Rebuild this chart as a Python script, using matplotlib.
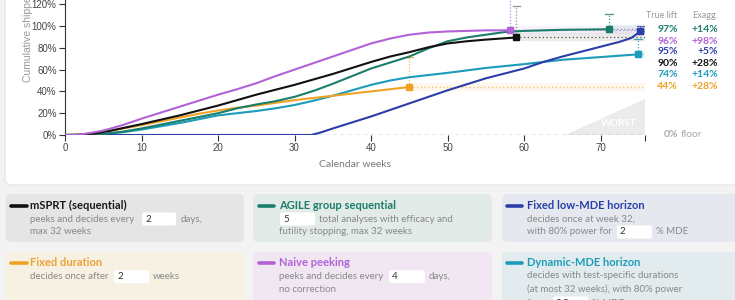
import matplotlib
matplotlib.use('Agg')
import matplotlib.pyplot as plt
from matplotlib.patches import FancyBboxPatch, Polygon

W, H = 735, 300

# ---- series (weeks, cumulative shipped lift %) ----
msprt_weeks = [0, 2, 4, 6, 8, 10, 12.5, 15, 17.5, 20, 22.5, 25, 27.5, 30, 32.5, 35,
               37.5, 40, 42.5, 45, 47.5, 50, 52.5, 55, 59]
msprt_lift = [0, 0.3, 1.5, 4, 7, 10, 14, 18, 22.5, 27, 32, 37, 41.5, 46, 51, 56,
              61.5, 67, 72, 76, 80.5, 84, 86, 87.5, 89.5]

agile_weeks = [0, 3, 5, 7.5, 10, 12.5, 15, 17.5, 20, 22.5, 25, 27.5, 30, 32.5, 35,
               37.5, 40, 42.5, 45, 47.5, 50, 52.5, 55, 57.5, 60, 65, 71.1]
agile_lift = [0, 0, 1, 3, 6, 9.5, 13, 16.5, 20, 24.5, 28, 31, 35, 40.5, 47,
              54, 61, 66.5, 72, 79.5, 86, 89.5, 92, 94.5, 95.5, 96.5, 97]

lowmde_weeks = [0, 32.2, 33.5, 35, 37.5, 40, 42.5, 45, 47.5, 50, 52.5, 55, 57.5,
                60, 62.5, 65, 67.5, 70, 72.5, 74, 75.2]
lowmde_lift = [0, 0, 2.5, 6, 11.5, 17, 23, 29, 35, 41, 46.5, 52, 56.5,
               61, 67, 72, 76.5, 81, 85.5, 89, 95]

fixed_weeks = [0, 2, 4, 6, 8, 10, 12.5, 15, 17.5, 20, 22.5, 25, 27.5, 30, 32.5, 35,
               37.5, 40, 42.5, 45]
fixed_lift = [0, 0.5, 2, 4, 6.5, 9, 12.5, 16, 19.5, 22.5, 25, 27, 29.5, 32, 34, 36,
              38, 40, 42, 44]

naive_weeks = [0, 1.5, 3, 5, 7.5, 10, 12.5, 15, 17.5, 20, 22.5, 25, 27.5, 30, 32.5,
               35, 37.5, 40, 42.5, 45, 47.5, 50, 55, 58.2]
naive_lift = [0, 0, 1.5, 4, 9, 15, 20.5, 26, 31.5, 37, 42, 47.5, 54, 60, 66,
              72, 78, 84, 88.5, 92, 94, 95, 96, 96]

dynamic_weeks = [0, 3, 5, 7.5, 10, 12.5, 15, 17.5, 20, 22.5, 25, 27.5, 30, 32.5, 35,
                 37.5, 40, 42.5, 45, 47.5, 50, 55, 60, 65, 70, 74.9]
dynamic_lift = [0, 0, 1, 2.5, 5, 8, 11, 14.5, 18, 20, 22, 24.5, 27.5, 31.5, 36,
                41, 46, 50, 53, 55, 57, 61.5, 65, 69, 71.5, 74]

# summary table on the right: true lift and exaggeration (percentage points)
table_names = ['AGILE', 'Naive', 'LowMDE', 'mSPRT', 'Dynamic', 'Fixed']
true_lift = [97, 96, 95, 90, 74, 44]
exaggeration = [14, 98, 5, 28, 14, 28]

colors = {
    'mSPRT': '#111111',
    'AGILE': '#1b7d6c',
    'LowMDE': '#2a3ea8',
    'Fixed': '#f0a225',
    'Naive': '#b262d6',
    'Dynamic': '#1b9cb8',
}
series = {
    'Dynamic': (dynamic_weeks, dynamic_lift),
    'Fixed': (fixed_weeks, fixed_lift),
    'LowMDE': (lowmde_weeks, lowmde_lift),
    'AGILE': (agile_weeks, agile_lift),
    'mSPRT': (msprt_weeks, msprt_lift),
    'Naive': (naive_weeks, naive_lift),
}
XMAX = 75.8

fig = plt.figure(figsize=(W / 100, H / 100), dpi=100)
fig.patch.set_facecolor('#f3f3f3')
inch = fig.dpi_scale_trans


def card(x0, y0, x1, y1, color, edge='none', r=5):
    p = FancyBboxPatch((x0 / 100, (H - y1) / 100), (x1 - x0) / 100, (y1 - y0) / 100,
                       boxstyle='round,pad=0,rounding_size=%f' % (r / 100),
                       transform=inch, facecolor=color, edgecolor=edge, lw=0.8, zorder=0)
    fig.add_artist(p)


def txt(x, y, s, **kw):
    kw.setdefault('fontfamily', 'Lato')
    kw.setdefault('va', 'center')
    fig.text(x / W, 1 - y / H, s, **kw)


def dash(x0, x1, y, color):
    fig.add_artist(plt.Line2D([x0 / W, x1 / W], [1 - y / H, 1 - y / H], color=color,
                              lw=2.6, solid_capstyle='round', transform=fig.transFigure))


def inputbox(x0, x1, yc, value):
    card(x0, yc - 6.5, x1, yc + 6.5, 'white', r=2)
    txt(x0 + 3, yc, value, fontsize=7, color='#333333')


# chart card
card(5, -20, 760, 185, 'white', edge='#e4e4e4', r=7)

ax = fig.add_axes([65 / W, (H - 135) / H, 580 / W, 136.25 / H])
ax.set_zorder(2)
ax.patch.set_alpha(0)
ax.set_xlim(0, XMAX)
ax.set_ylim(0, 125)

# worst-case wedge
ax.add_patch(Polygon([(65.4, 0), (XMAX, 0), (XMAX, 33)], closed=True,
                     facecolor='#ebebeb', edgecolor='none', zorder=1))
ax.text(72.4, 11, 'WORST', color='white', fontsize=7, fontweight='bold',
        fontfamily='Lato', ha='center', va='center', zorder=2)

ax.axhline(0, color='#888888', lw=1, ls=(0, (3, 2.5)), zorder=2)

for name, (wk, lift) in series.items():
    c = colors[name]
    ax.plot(wk, lift, color=c, lw=1.5, zorder=4, solid_capstyle='round',
            solid_joinstyle='round')
    i = table_names.index(name)
    xe, ye = wk[-1], lift[-1]
    top = true_lift[i] + exaggeration[i]
    ax.plot([xe, XMAX], [ye, ye], color=c, lw=6, alpha=0.08, zorder=3, solid_capstyle='butt')
    ax.plot([xe, XMAX], [ye, ye], color=c, lw=0.9, ls=(0, (1, 2)), alpha=0.7, zorder=3)
    vc = '#777777' if name == 'mSPRT' else c
    ax.plot([xe, xe], [ye, top], color=vc, lw=0.9, ls=(0, (1, 1.5)), alpha=0.8, zorder=3)
    ax.plot([xe - 0.5, xe + 0.5], [top, top], color=vc, lw=0.9, alpha=0.8, zorder=3)
    ax.plot([xe], [ye], marker='s', ms=5, color=c, zorder=5)

for s in ['top', 'right', 'bottom']:
    ax.spines[s].set_visible(False)
ax.spines['left'].set_color('#333333')
ax.spines['left'].set_linewidth(0.8)
ax.set_yticks(range(0, 121, 20))
ax.set_yticklabels(['%d%%' % v for v in range(0, 121, 20)])
ax.set_xticks(list(range(0, 71, 10)) + [XMAX])
ax.set_xticklabels([str(v) for v in range(0, 71, 10)] + [''])
ax.tick_params(axis='both', length=4, width=0.8, color='#333333', labelsize=7,
               labelcolor='#444444', pad=2)
for lab in ax.get_xticklabels() + ax.get_yticklabels():
    lab.set_fontfamily('Liberation Sans')
ax.set_xlabel('Calendar weeks', fontsize=7.5, color='#777777', fontfamily='Lato', labelpad=5)
txt(28, 82, 'Cumulative shipped lift', rotation=90, ha='center', va='bottom',
    fontsize=7.5, color='#999999', fontfamily='Liberation Sans')

# right-hand table
txt(677, 15, 'True lift', ha='right', fontsize=6.5, color='#999999')
txt(718, 15, 'Exagg.', ha='right', fontsize=6.5, color='#999999')
row_y = [29.7, 41, 52, 63, 74.5, 86.5]
for name, tl, ex, y in zip(table_names, true_lift, exaggeration, row_y):
    txt(678, y, '%d%%' % tl, ha='right', fontsize=7.5, fontweight='bold', color=colors[name])
    txt(718, y, '+%d%%' % ex, ha='right', fontsize=7.5, fontweight='bold', color=colors[name])
txt(664, 134.5, '0%', fontsize=7.5, fontweight='bold', color='#aaaaaa')
txt(681, 134.5, 'floor', fontsize=7.5, color='#aaaaaa')

# method cards
sub = dict(fontsize=7, color='#888888')
tit = dict(fontsize=8, fontweight='bold')

card(5.7, 194, 244, 242, '#e5e5e5')
dash(11, 27, 205.5, colors['mSPRT'])
txt(30.5, 205.5, 'mSPRT (sequential)', color='#1a1a1a', **tit)
txt(30.5, 219, 'peeks and decides every', **sub)
inputbox(142, 176, 219, '2')
txt(181, 219, 'days,', **sub)
txt(30.5, 232, 'max 32 weeks', **sub)

card(5.7, 252, 244, 320, '#f7f1e3')
dash(11, 27, 262.7, colors['Fixed'])
txt(30.5, 262.7, 'Fixed duration', color='#eba232', **tit)
txt(30.5, 276.7, 'decides once after', **sub)
inputbox(114, 149, 276.7, '2')
txt(153, 276.7, 'weeks', **sub)

card(253, 194, 492, 242, '#e3ebe8')
dash(259, 274, 205.5, colors['AGILE'])
txt(279, 205.5, 'AGILE group sequential', color=colors['AGILE'], **tit)
inputbox(280, 315, 219, '5')
txt(319, 219, 'total analyses with efficacy and', **sub)
txt(279, 232, 'futility stopping, max 32 weeks', **sub)

card(253, 252, 492, 320, '#f0e7f2')
dash(259, 274, 262.7, colors['Naive'])
txt(279, 262.7, 'Naive peeking', color=colors['Naive'], **tit)
txt(279, 276.7, 'peeks and decides every', **sub)
inputbox(389, 425, 276.7, '4')
txt(429, 276.7, 'days,', **sub)
txt(279, 289.7, 'no correction', **sub)

card(502, 194, 760, 242, '#e5e9ef')
dash(507, 522, 205.5, colors['LowMDE'])
txt(526.7, 205.5, 'Fixed low-MDE horizon', color=colors['LowMDE'], **tit)
txt(526.7, 218.7, 'decides once at week 32,', **sub)
txt(526.7, 232, 'with 80% power for', **sub)
inputbox(617, 652, 232, '2')
txt(656, 232, '% MDE', **sub)

card(502, 252, 760, 320, '#e2ecef')
dash(507, 522, 262.7, colors['Dynamic'])
txt(526.7, 262.7, 'Dynamic-MDE horizon', color=colors['Dynamic'], **tit)
txt(526.7, 276, 'decides with test-specific durations', **sub)
txt(526.7, 289.7, '(at most 32 weeks), with 80% power', **sub)
txt(526.7, 303, 'for', **sub)
inputbox(553, 588, 303, '2.5')
txt(592, 303, '% MDE', **sub)

fig.savefig('out.png', dpi=100, facecolor=fig.get_facecolor())
